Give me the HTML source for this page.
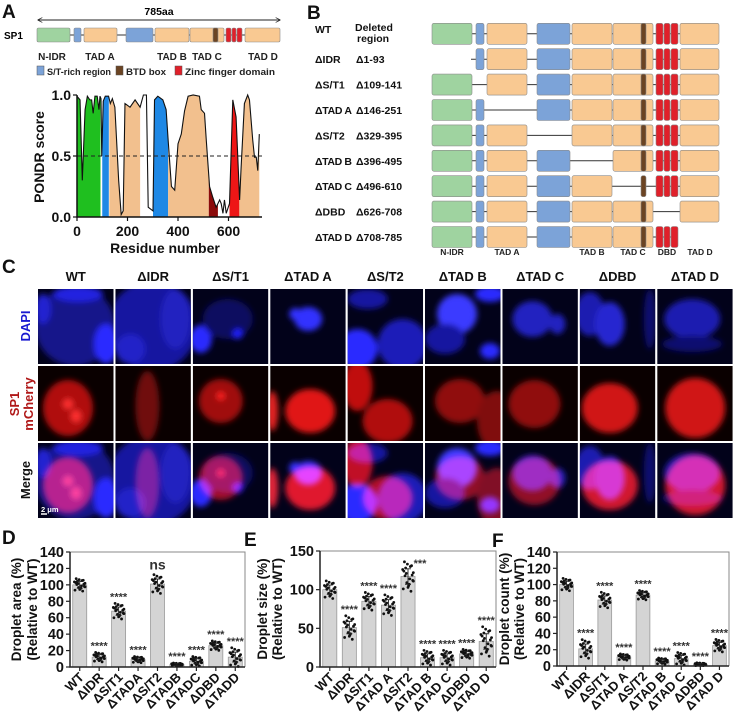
<!DOCTYPE html>
<html><head><meta charset="utf-8">
<style>
html,body{margin:0;padding:0;background:#fff;}
svg{display:block;font-family:"Liberation Sans",Arial,sans-serif;font-weight:bold;}
</style></head>
<body>
<svg id="fig" width="735" height="718" viewBox="0 0 735 718" xmlns="http://www.w3.org/2000/svg">
<defs>
<filter id="blur3" x="-50%" y="-50%" width="200%" height="200%"><feGaussianBlur stdDeviation="3"/></filter>
<marker id="arr" viewBox="0 0 10 10" refX="9" refY="5" markerWidth="5" markerHeight="5" orient="auto-start-reverse"><path d="M0,0 L10,5 L0,10" fill="none" stroke="#222" stroke-width="1.5"/></marker>
</defs>
<g font-size="19" fill="#111">
<text x="2" y="18">A</text>
<text x="307" y="19">B</text>
<text x="2" y="273">C</text>
<text x="2" y="544">D</text>
<text x="244" y="546">E</text>
<text x="492" y="547">F</text>
</g>
<g>
<line x1="38" y1="20" x2="280" y2="20" stroke="#222" stroke-width="1" marker-start="url(#arr)" marker-end="url(#arr)"/>
<text x="159" y="15" font-size="10.5" text-anchor="middle">785aa</text>
<text x="4" y="39" font-size="10">SP1</text>
<g id="amap"></g>
<g font-size="10" text-anchor="middle" fill="#222">
<text x="52" y="60">N-IDR</text>
<text x="100" y="60">TAD A</text>
<text x="172" y="60">TAD B</text>
<text x="207" y="60">TAD C</text>
<text x="263" y="60">TAD D</text>
</g>
<g font-size="9.5" fill="#222">
<rect x="37" y="66" width="7" height="9" fill="#7ca3d8" stroke="#555" stroke-width="0.5"/>
<text x="47" y="75" textLength="64" lengthAdjust="spacingAndGlyphs">S/T-rich region</text>
<rect x="116" y="66" width="7" height="9" fill="#6b4423" stroke="#555" stroke-width="0.5"/>
<text x="126" y="75" textLength="40" lengthAdjust="spacingAndGlyphs">BTD box</text>
<rect x="175" y="66" width="7" height="9" fill="#e0202a" stroke="#555" stroke-width="0.5"/>
<text x="185" y="75" textLength="90" lengthAdjust="spacingAndGlyphs">Zinc finger domain</text>
</g>
</g>
<g id="pondr"></g>
<g id="panelB"></g>
<g id="panelC"></g>
<g id="chartD"></g>
<g id="chartE"></g>
<g id="chartF"></g>
</svg>
<script>
const pondrResidues = [0,12,21,32,41,51,58,64,71,80,87,91,95,98,104,112,125,132,140,150,165,175,183,190,210,230,250,263,275,282,301,307,320,340,353,361,374,387,400,413,426,440,460,485,492,505,512,525,538,551,565,571,578,584,591,604,617,630,644,650,663,676,683,696,703,710,716,722];
const pondrScores = [0.99,0.96,0.30,0.88,0.99,0.96,0.96,0.85,0.99,0.99,0.88,0.99,0.97,0.5,0.95,0.99,0.99,0.93,0.97,0.9,0.3,0.02,0.05,0.93,0.9,0.96,0.9,1.0,1.0,0.08,0.05,0.96,0.99,0.96,0.88,0.63,0.25,0.22,0.6,0.68,0.87,0.99,1.0,0.99,0.88,0.85,0.63,0.25,0.16,0.08,0.14,0.11,0.03,0.14,0.03,0.11,0.96,0.82,0.14,0.41,0.93,1.0,0.96,0.63,0.49,0.49,0.38,0.68];
const pondrRegionStart = [0,100,128,301,361,522,604,643];
const pondrRegionEnd = [93,126,250,361,522,558,643,722];
const pondrRegionColor = ['#1fbf1f','#1e88e5','#f2c08e','#1e88e5','#f2c08e','#8b0a0a','#ee1616','#f2c08e'];
const pondrXTicks = [0,200,400,600];
const pondrYTicks = [0.0,0.5,1.0];

const catsD = ['WT','ΔIDR','ΔS/T1','ΔTADA','ΔS/T2','ΔTADB','ΔTADC','ΔDBD','ΔTADD'];
const catsEF = ['WT','ΔIDR','ΔS/T1','ΔTAD A','ΔS/T2','ΔTAD B','ΔTAD C','ΔDBD','ΔTAD D'];
const meanD = [100,12,68,9,101,3,7,26,12];
const sdD = [4,3,5,2,6,1,3,3,6];
const sigD = ['','****','****','****','ns','****','****','****','****'];
const ticksD = [0,20,40,60,80,100,120,140];
const meanE = [100,51,85,80,117,12,12,17,33];
const sdE = [6,8,6,7,10,5,5,3,10];
const sigE = ['','****','****','****','***','****','****','****','****'];
const ticksE = [0,50,100,150];
const meanF = [100,21,81,11,87,6,9,2,25];
const sdF = [4,6,5,2,3,2,4,1,4];
const sigF = ['','****','****','****','****','****','****','****','****'];
const ticksF = [0,20,40,60,80,100,120,140];
const repDev = [-1.6,1.4,-0.8,0.5,1.9,-0.3,0.9,-1.2,0.2,1.1,-1.9,0.7,-0.5,1.6,-1.0,0.1,1.3,-0.6,0.4,-1.4];
const repJit = [-0.8,0.6,-0.2,0.9,-0.6,0.3,-0.9,0.1,0.7,-0.4,0.5,-0.7,0.8,-0.1,0.2,-0.5,0.4,0.9,-0.3,0.0];

const NS='http://www.w3.org/2000/svg';
function mk(tag, attrs, parent){const e=document.createElementNS(NS,tag);for(const k in attrs)e.setAttribute(k,attrs[k]);if(parent)parent.appendChild(e);return e;}

(function(){
 const g=document.getElementById('amap');
 const ln=mk('line',{x1:37,y1:35,x2:280,y2:35,stroke:'#333','stroke-width':1},g);
 
 
 const doms=[[37,70,'#9fd3a0','n-idr'],[74,81,'#7ca3d8','st1'],[84,117,'#f9c992','tad-a'],[126,153,'#7ca3d8','st2'],[155,189,'#f9c992','tad-b'],[190,224,'#f9c992','tad-c'],[213,218,'#6b4423','btd'],[226,231,'#e0202a','zf1'],[232,236,'#e0202a','zf2'],[237,242,'#e0202a','zf3'],[245,280,'#f9c992','tad-d']];
 doms.forEach(d=>{const r=mk('rect',{x:d[0],y:28,width:d[1]-d[0],height:14,rx:1.5,fill:d[2],stroke:'#8a8a8a','stroke-width':0.6},g);
  
  });
})();

(function(){
 const g=document.getElementById('pondr');
 const X=r=>77+r*50.5/200, Y=s=>217-s*122;
 function interp(r){for(let i=0;i<pondrResidues.length-1;i++){const a=pondrResidues[i],b=pondrResidues[i+1];if(r>=a&&r<=b){const t=(r-a)/(b-a||1);return pondrScores[i]+t*(pondrScores[i+1]-pondrScores[i]);}}return pondrScores[pondrScores.length-1];}
 pondrRegionStart.forEach((s,i)=>{const e=pondrRegionEnd[i];let pts=[[X(s),Y(0)],[X(s),Y(interp(s))]];
  pondrResidues.forEach((r,j)=>{if(r>s&&r<e)pts.push([X(r),Y(pondrScores[j])]);});
  pts.push([X(e),Y(interp(e))]);pts.push([X(e),Y(0)]);
  const p=mk('polygon',{points:pts.map(p=>p.join(',')).join(' '),fill:pondrRegionColor[i]},g);
  
  });
 const dl=mk('line',{x1:77,x2:262,y1:Y(0.5),y2:Y(0.5),stroke:'#222','stroke-width':1,'stroke-dasharray':'4,3'},g);
 
 
 const cv=mk('polyline',{points:pondrResidues.map((r,i)=>X(r)+','+Y(pondrScores[i])).join(' '),fill:'none',stroke:'#111','stroke-width':1.1},g);
 
 
 const ax=mk('path',{d:`M77,${Y(1)} V217 H262`,fill:'none',stroke:'#111','stroke-width':1.5},g);
 
 
 pondrYTicks.forEach(t=>{const l=mk('line',{x1:73,x2:77,y1:Y(t),y2:Y(t),stroke:'#111','stroke-width':1.2},g);
  
  
  const tx=mk('text',{x:71,y:Y(t)+5,'font-size':14,'text-anchor':'end',fill:'#111'},g);tx.textContent=t.toFixed(1);
  
  });
 pondrXTicks.forEach(t=>{const x=X(t);const l=mk('line',{x1:x,x2:x,y1:217,y2:221,stroke:'#111','stroke-width':1.2},g);
  
  
  const tx=mk('text',{x:x,y:236,'font-size':14,'text-anchor':'middle',fill:'#111'},g);tx.textContent=t;
  
  });
 const xt=mk('text',{x:165,y:253,'font-size':14,'text-anchor':'middle',fill:'#111'},g);xt.textContent='Residue number';
 
 
 const yt=mk('text',{x:0,y:0,'font-size':14,'text-anchor':'middle',fill:'#111',transform:'translate(44,157) rotate(-90)'},g);yt.textContent='PONDR score';
 
 
})();

(function(){
 const g=document.getElementById('panelB');
 const names=['WT','ΔIDR','ΔS/T1','ΔTAD A','ΔS/T2','ΔTAD B','ΔTAD C','ΔDBD','ΔTAD D'];
 const dels=['','Δ1-93','Δ109-141','Δ146-251','Δ329-395','Δ396-495','Δ496-610','Δ626-708','Δ708-785'];
 const doms={g:[432,472,'#9fd3a0'],b1:[476,484,'#7ca3d8'],ta:[487,527,'#f9c992'],b2:[537,570,'#7ca3d8'],tb:[572,612,'#f9c992'],tc:[613,653,'#f9c992'],br:[641,646,'#6b4423'],r1:[656,663,'#e0202a'],r2:[664,670,'#e0202a'],r3:[671,678,'#e0202a'],td:[680,719,'#f9c992']};
 const removed=[[],['g'],['b1'],['ta'],['b2'],['tb'],['tc'],['r1','r2','r3'],['td']];
 names.forEach((n,i)=>{const top=23.3+i*25.4, cy=top+10.5;
  const t=mk('text',{x:315,y:i==0?cy-1:cy+4,'font-size':10.5,fill:'#111'},g);t.textContent=n;
  if(n.length>=6)t.setAttribute('textLength','37');
  
  
  if(i>0){const d=mk('text',{x:356,y:cy+4,'font-size':10.5,fill:'#111'},g);d.textContent=dels[i];
   
   }
  const keys=Object.keys(doms).filter(k=>!removed[i].includes(k));
  let x1=Math.min(...keys.map(k=>doms[k][0])), x2=Math.max(...keys.map(k=>doms[k][1]));
  if(i==1)x1=471;
  const l=mk('line',{x1:x1,x2:x2,y1:cy,y2:cy,stroke:'#333','stroke-width':1},g);
  
  
  keys.forEach(k=>{const d=doms[k];const r=mk('rect',{x:d[0],y:top,width:d[1]-d[0],height:21,rx:2,fill:d[2],stroke:'#8a8a8a','stroke-width':0.6},g);
   
   });
 });
 const h1=mk('text',{x:355,y:31,'font-size':10.5,fill:'#111'},g);h1.textContent='Deleted';
 
 
 const h2=mk('text',{x:357,y:42,'font-size':10.5,fill:'#111'},g);h2.textContent='region';
 
 
 [['N-IDR',452],['TAD A',507],['TAD B',592],['TAD C',633],['DBD',667],['TAD D',700]].forEach(a=>{
  const t=mk('text',{x:a[1],y:255,'font-size':8.5,'text-anchor':'middle',fill:'#222'},g);t.textContent=a[0];
  
  });
})();

(function(){
 const g=document.getElementById('panelC');
 const cols=['WT','ΔIDR','ΔS/T1','ΔTAD A','ΔS/T2','ΔTAD B','ΔTAD C','ΔDBD','ΔTAD D'];
 const blue=[
  [[37,37,40,40,'#14148a'],[68,55,12,20,'#2a2aff'],[40,5,25,8,'#2020e0'],[5,20,8,15,'#2020d0']],
  [[37,37,45,45,'#1414a0'],[60,30,15,30,'#2020c0'],[15,60,15,15,'#2222c8']],
  [[8,50,11,14,'#2a2aff'],[35,30,25,20,'#0c0c60'],[45,45,5,5,'#2020ff']],
  [[38,30,14,12,'#3232ff'],[25,25,6,6,'#3232ff']],
  [[10,60,20,20,'#2a2aff'],[55,55,25,25,'#1a1ab8'],[20,10,20,10,'#1818a0']],
  [[32,25,20,20,'#3a3aff'],[65,62,10,8,'#2a2aff'],[20,50,20,15,'#1515a0'],[65,5,15,8,'#2a2aff']],
  [[30,30,20,18,'#2020c0'],[55,35,8,10,'#2020c0']],
  [[10,25,15,22,'#1a1ab0'],[30,35,15,22,'#2525d0'],[70,30,6,30,'#101070']],
  [[35,30,28,20,'#1a1ab0'],[35,55,30,8,'#101070']]];
 const red=[
  [[30,42,25,28,'#b01010'],[30,38,5,5,'#ff3030'],[38,50,5,6,'#ff3030']],
  [[32,40,12,35,'#701010']],
  [[28,35,22,22,'#a01010'],[28,30,4,4,'#ff2020']],
  [[40,45,25,22,'#e01818'],[2,45,6,20,'#e02020']],
  [[10,20,15,25,'#c01010'],[40,55,25,22,'#b01010']],
  [[35,35,25,22,'#901010'],[72,55,20,30,'#801010']],
  [[32,38,26,24,'#901010']],
  [[30,42,28,25,'#d01515']],
  [[38,42,30,30,'#d01515']]];
 const rowsY=[289,366,443], W=75.5, H=75;
 cols.forEach((c,ci)=>{const x=38+ci*77.4;
  const t=mk('text',{x:x+W/2,y:281,'font-size':13,'text-anchor':'middle',fill:'#111'},g);t.textContent=c;
  
  
  rowsY.forEach((y,ri)=>{
   const cid='clip'+ci+'_'+ri;
   const cp=mk('clipPath',{id:cid},g);mk('rect',{x:x,y:y,width:W,height:H},cp);
   const cell=mk('g',{'clip-path':'url(#'+cid+')'},g);
   
   
   mk('rect',{x:x,y:y,width:W,height:H,fill:ri==1?'#0a0000':'#02021a'},cell);
   const bl=mk('g',{filter:'url(#blur3)'},cell);
   if(ri!=1)blue[ci].forEach(b=>mk('ellipse',{cx:x+b[0],cy:y+b[1],rx:b[2],ry:b[3],fill:b[4]},bl));
   const rl=mk('g',{filter:'url(#blur3)',style:ri==2?'mix-blend-mode:screen':''},cell);
   if(ri!=0)red[ci].forEach(b=>mk('ellipse',{cx:x+b[0],cy:y+b[1],rx:b[2],ry:b[3],fill:b[4]},rl));
  });
 });
 const rl=[['DAPI',326,'#1a1ad0'],['Merge',480,'#111']];
 rl.forEach(r=>{const t=mk('text',{x:0,y:0,'font-size':13,'text-anchor':'middle',fill:r[2],transform:`translate(30,${r[1]}) rotate(-90)`},g);t.textContent=r[0];
  
  });
 const s1=mk('text',{x:0,y:0,'font-size':13,'text-anchor':'middle',fill:'#b01818',transform:'translate(19,404) rotate(-90)'},g);s1.textContent='SP1';
 
 
 const s2=mk('text',{x:0,y:0,'font-size':13,'text-anchor':'middle',fill:'#b01818',transform:'translate(33,404) rotate(-90)'},g);s2.textContent='mCherry';
 
 
 const sb=mk('line',{x1:41,x2:47,y1:514,y2:514,stroke:'#fff','stroke-width':1.5},g);
 
 
 const st=mk('text',{x:41,y:512,'font-size':7.5,fill:'#fff'},g);st.textContent='2 μm';
 
 
})();

function barChart(id,cats,means,sds,sigs,ticks,ymax,x0,x1,y0,ytop,t1,t2,tx1,tx2){
 const g=document.getElementById(id);
 const Y=v=>y0-v/ymax*(y0-ytop);
 const pitch=(x1-x0)/cats.length, bw=pitch*0.72;
 const fr=mk('path',{d:`M${x0},${ytop} H${x1} V${y0}`,fill:'none',stroke:'#888','stroke-width':1},g);
 
 
 cats.forEach((c,i)=>{const cx=x0+(i+0.5)*pitch;
  const b=mk('rect',{x:cx-bw/2,y:Y(means[i]),width:bw,height:y0-Y(means[i]),fill:'#d4d4d4',stroke:'#9a9a9a','stroke-width':0.8},g);
  
  
  let top=means[i];
  repDev.forEach((d,k)=>{const v=Math.max(0.5,means[i]+d*sds[i]);top=Math.max(top,v);
   const p=mk('circle',{cx:cx+repJit[k]*bw*0.42,cy:Y(v),r:1.4,fill:'#111'},g);
   
   });
  const e=mk('path',{d:`M${cx},${Y(means[i]-sds[i])} V${Y(means[i]+sds[i])} M${cx-3},${Y(means[i]+sds[i])} h6 M${cx-3},${Y(means[i]-sds[i])} h6`,stroke:'#222','stroke-width':0.9,fill:'none'},g);
  
  
  if(sigs[i]){const s=mk('text',{x:cx+(sigs[i]=='***'&&id=='chartE'?12:0),y:sigs[i]=='ns'?Y(top)-5:Y(top)-3+(sigs[i]=='***'&&id=='chartE'?8:0),'font-size':sigs[i]=='ns'?14:11,'text-anchor':'middle',fill:'#333'},g);s.textContent=sigs[i];
   
   }
  const tk=mk('line',{x1:cx,x2:cx,y1:y0,y2:y0+4,stroke:'#222','stroke-width':1.2},g);
  
  
  const lb=mk('text',{x:0,y:0,'font-size':13,'text-anchor':'end',fill:'#111',transform:`translate(${cx+5},${y0+11}) rotate(-45)`},g);lb.textContent=c;
  
  
 });
 const ax=mk('path',{d:`M${x0},${ytop} V${y0} H${x1}`,fill:'none',stroke:'#222','stroke-width':1.5},g);
 
 
 ticks.forEach(t=>{const l=mk('line',{x1:x0-4,x2:x0,y1:Y(t),y2:Y(t),stroke:'#222','stroke-width':1.2},g);
  
  
  const tx=mk('text',{x:x0-6,y:Y(t)+5,'font-size':14.5,'text-anchor':'end',fill:'#111'},g);tx.textContent=t;
  
  });
 const cy=(y0+ytop)/2;
 const a=mk('text',{x:0,y:0,'font-size':13.5,'text-anchor':'middle',fill:'#111',transform:`translate(${tx1},${cy}) rotate(-90)`},g);a.textContent=t1;
 
 
 const b=mk('text',{x:0,y:0,'font-size':13.5,'text-anchor':'middle',fill:'#111',transform:`translate(${tx2},${cy}) rotate(-90)`},g);b.textContent=t2;
 
 
}
barChart('chartD',catsD,meanD,sdD,sigD,ticksD,140,70,245,667,552,'Droplet area (%)','(Relative to WT)',21,37);
barChart('chartE',catsEF,meanE,sdE,sigE,ticksE,150,320,496,667,551,'Droplet size (%)','(Relative to WT)',267,282);
barChart('chartF',catsEF,meanF,sdF,sigF,ticksF,140,557,729,666,552,'Droplet count (%)','(Relative to WT)',509,524);
</script>
</body></html>
